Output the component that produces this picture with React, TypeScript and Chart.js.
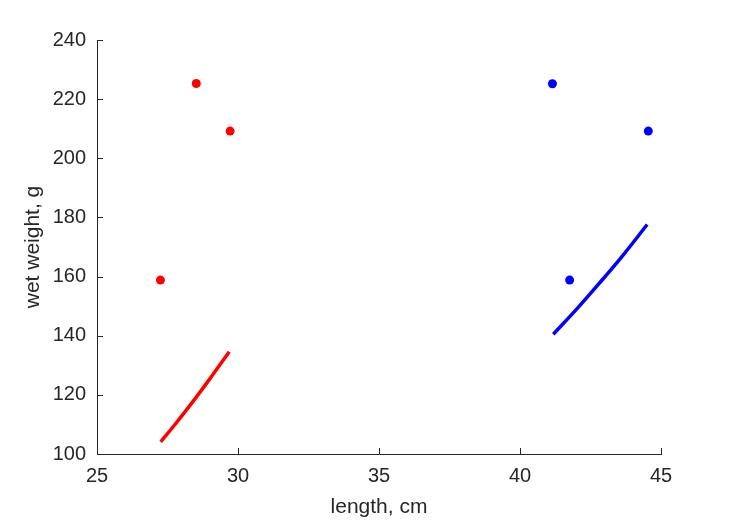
import React, { useEffect, useRef } from "react";
import { Chart, registerables } from "chart.js";

Chart.register(...registerables);

// Observed points (length cm, wet weight g)
const redPtsX = [27.25, 28.52, 29.72];
const redPtsY = [158.8, 225.3, 209.2];
const bluePtsX = [41.15, 41.76, 44.55];
const bluePtsY = [225.2, 158.8, 209.2];

// Fitted curves
const redLineX = [27.26, 27.8, 28.4, 29.0, 29.69];
const redLineY = [104.1, 110.4, 117.7, 125.4, 134.6];
const blueLineX = [41.18, 42.0, 42.8, 43.6, 44.51];
const blueLineY = [140.5, 148.9, 157.6, 166.6, 177.6];

const xTicks = [25, 30, 35, 40, 45];
const yTicks = [100, 120, 140, 160, 180, 200, 220, 240];

const zip = (xs: number[], ys: number[]) => xs.map((x, i) => ({ x, y: ys[i] }));

const AXIS = "#262626";
const FONT = "'Liberation Sans', Arial, Helvetica, sans-serif";

const innerTicks = {
  id: "innerTicks",
  afterDraw(chart: any) {
    const { ctx, chartArea, scales } = chart;
    ctx.save();
    ctx.strokeStyle = AXIS;
    ctx.lineWidth = 1;
    ctx.beginPath();
    xTicks.forEach((v) => {
      const px = Math.round(scales.x.getPixelForValue(v)) + 0.5;
      ctx.moveTo(px, chartArea.bottom);
      ctx.lineTo(px, chartArea.bottom - 6);
    });
    yTicks.forEach((v) => {
      const py = Math.round(scales.y.getPixelForValue(v)) + 0.5;
      ctx.moveTo(chartArea.left, py);
      ctx.lineTo(chartArea.left + 6, py);
    });
    ctx.stroke();
    ctx.restore();
  },
};

export default function App() {
  const ref = useRef<HTMLCanvasElement | null>(null);
  useEffect(() => {
    if (!ref.current) return;
    const chart = new Chart(ref.current, {
      type: "scatter",
      data: {
        datasets: [
          {
            data: zip(redPtsX, redPtsY),
            backgroundColor: "#ff0000",
            borderColor: "#ff0000",
            pointRadius: 4.5,
            pointBorderWidth: 0,
            showLine: false,
          },
          {
            data: zip(bluePtsX, bluePtsY),
            backgroundColor: "#0000ff",
            borderColor: "#0000ff",
            pointRadius: 4.5,
            pointBorderWidth: 0,
            showLine: false,
          },
          {
            data: zip(redLineX, redLineY),
            borderColor: "#ff0000",
            borderWidth: 3.5,
            pointRadius: 0,
            showLine: true,
            cubicInterpolationMode: "monotone",
          },
          {
            data: zip(blueLineX, blueLineY),
            borderColor: "#0000ff",
            borderWidth: 3.5,
            pointRadius: 0,
            showLine: true,
            cubicInterpolationMode: "monotone",
          },
        ] as any,
      },
      options: {
        animation: false,
        responsive: false,
        maintainAspectRatio: false,
        layout: { padding: { left: 0, top: 40, right: 68, bottom: 0 } },
        plugins: { legend: { display: false }, tooltip: { enabled: false } },
        scales: {
          x: {
            type: "linear",
            min: 25,
            max: 45,
            afterFit: (s: any) => {
              s.height = 67;
            },
            afterBuildTicks: (s: any) => {
              s.ticks = xTicks.map((v) => ({ value: v }));
            },
            ticks: { color: AXIS, font: { family: FONT, size: 20 }, padding: 10 },
            grid: { display: true, drawOnChartArea: false, drawTicks: false },
            border: { display: true, color: AXIS, width: 1 },
            title: {
              display: true,
              text: "length, cm",
              color: AXIS,
              font: { family: FONT, size: 21 },
              padding: { top: 0, bottom: 1 },
            },
          },
          y: {
            type: "linear",
            min: 100,
            max: 240,
            afterFit: (s: any) => {
              s.width = 97;
            },
            afterBuildTicks: (s: any) => {
              s.ticks = yTicks.map((v) => ({ value: v }));
            },
            ticks: { color: AXIS, font: { family: FONT, size: 20 }, padding: 11 },
            grid: { display: true, drawOnChartArea: false, drawTicks: false },
            border: { display: true, color: AXIS, width: 1 },
            title: {
              display: true,
              text: "wet weight, g",
              color: AXIS,
              font: { family: FONT, size: 21 },
              padding: { top: 21, bottom: 0 },
            },
          },
        },
      },
      plugins: [innerTicks],
    });
    return () => chart.destroy();
  }, []);
  return (
    <div style={{ position: "absolute", left: 0, top: 0, width: 729, height: 521, background: "#fff" }}>
      <canvas ref={ref} width={729} height={521} style={{ width: 729, height: 521 }} />
    </div>
  );
}
